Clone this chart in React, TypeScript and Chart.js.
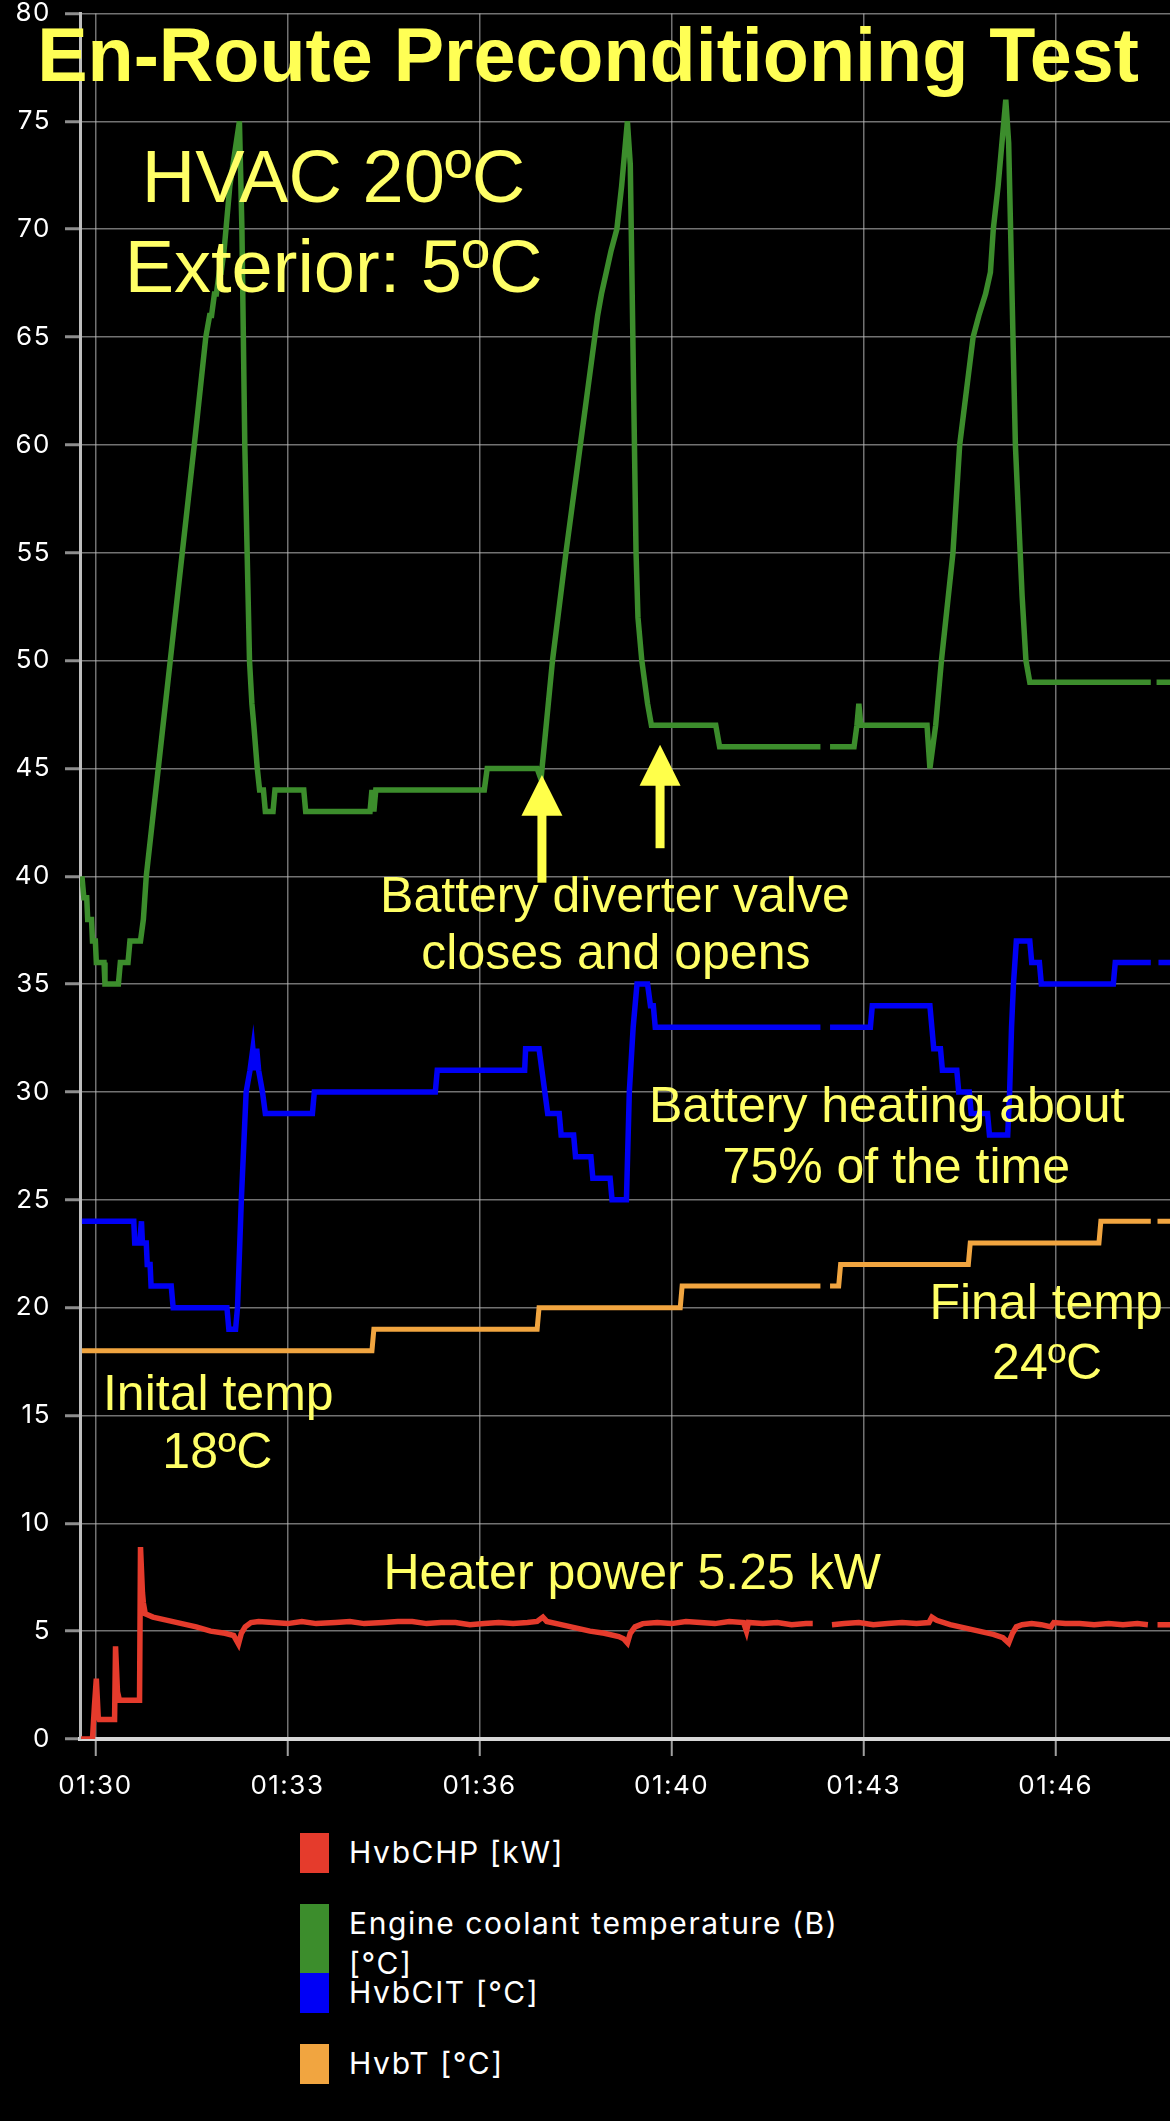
import React, { useEffect, useRef } from "react";
import { Chart, registerables } from "chart.js";

Chart.register(...registerables);

// ---- time base: x values are seconds after 01:30:00 ----
const BASE_SECONDS = 5400; // 01:30:00 as seconds since midnight
const X_MIN_OFFSET = -16;
const X_MAX_OFFSET = 1119;
const X_TICK_STEP = 200;

const Y_MIN = 0;
const Y_MAX = 80;
const Y_STEP = 5;

const seriesLabels = [
  "HvbCHP [kW]",
  "Engine coolant temperature (B) [°C]",
  "HvbCIT [°C]",
  "HvbT [°C]",
];
const seriesColors = ["#e53b2c", "#3c8d2c", "#0000f6", "#f1a540"];
const seriesLineWidths = [5.5, 5.5, 5.5, 5];

// [seconds after 01:30:00, value]; null marks a gap in the log
const heaterPower: [number, number | null][] = [
  [-15, 0], [-3, 0], [-1, 1.5], [1, 2.8], [3, 1.0], [4, 0.9], [20, 0.9], [21, 4.3], [23, 2.2],
  [25, 1.8], [46, 1.8], [47, 8.9], [49, 6.8], [50, 6.3], [52, 5.8], [60, 5.65], [75, 5.5],
  [90, 5.35], [105, 5.2], [120, 5.0], [135, 4.9], [144, 4.8], [149, 4.4], [152, 4.9], [156, 5.2],
  [162, 5.4], [170, 5.45], [185, 5.4], [200, 5.35], [215, 5.45], [230, 5.35], [250, 5.4],
  [265, 5.45], [280, 5.35], [300, 5.4], [315, 5.45], [330, 5.45], [345, 5.35], [360, 5.4],
  [375, 5.4], [390, 5.3], [405, 5.35], [420, 5.4], [435, 5.35], [450, 5.4], [460, 5.45],
  [466, 5.65], [470, 5.45], [485, 5.3], [500, 5.15], [515, 5.0], [530, 4.9], [545, 4.75],
  [550, 4.65], [554, 4.45], [557, 4.9], [562, 5.2], [570, 5.35], [585, 5.4], [600, 5.35],
  [615, 5.45], [630, 5.4], [645, 5.35], [660, 5.45], [675, 5.4], [678, 5.0], [680, 5.4],
  [695, 5.35], [710, 5.4], [725, 5.3], [740, 5.35], [747, 5.35], [757, null], [767, 5.3],
  [780, 5.35], [795, 5.4], [810, 5.3], [825, 5.35], [840, 5.4], [855, 5.35], [868, 5.4],
  [871, 5.65], [876, 5.5], [890, 5.3], [905, 5.15], [920, 5.0], [935, 4.85], [945, 4.7],
  [951, 4.45], [955, 4.9], [959, 5.2], [965, 5.3], [975, 5.35], [985, 5.3], [995, 5.2],
  [998, 5.4], [1010, 5.35], [1025, 5.35], [1040, 5.3], [1055, 5.35], [1070, 5.3], [1085, 5.35],
  [1096, 5.3], [1101, null], [1106, 5.3], [1119, 5.3],
];

const coolantTemp: [number, number | null][] = [
  [-14, 40], [-12, 39], [-9, 39], [-8, 38], [-4, 38], [-3, 37], [0, 37], [1, 36], [9, 36],
  [10, 35], [24, 35], [26, 36], [34, 36], [36, 37], [47, 37], [50, 38], [53, 40], [65.5, 45],
  [78, 50], [90.5, 55], [103, 60], [115, 65], [119, 66], [121, 66], [124, 67], [126, 67],
  [129, 68], [131, 68], [134, 69], [136, 70], [140, 72], [150, 75], [152.6, 70], [155.6, 60],
  [160.5, 50], [163, 48], [165, 47], [168.6, 45], [171, 44], [175, 44], [177, 43], [185, 43],
  [187, 44], [217, 44], [219, 43], [286, 43], [288, 44], [290, 43], [292, 44], [405, 44],
  [408, 45], [460, 45], [464, 44.5], [476, 50], [490, 55], [505, 60], [520, 65], [523, 66],
  [527, 67], [532, 68], [537, 69], [543, 70], [548, 72], [554, 75], [557, 73], [563, 55],
  [565, 52], [569, 50], [572, 49], [575, 48], [579, 47], [646, 47], [650, 46], [755, 46],
  [760, null], [765, 46], [790, 46], [793, 47], [795, 48], [797, 47], [866, 47], [869, 45],
  [875, 47], [877, 48], [881, 50], [893, 55], [900, 60], [914, 65], [920, 66], [927, 67],
  [932, 68], [935, 70], [940, 72], [948, 76], [951, 74], [958, 60], [965, 53], [969, 50],
  [973, 49], [1099, 49], [1102, null], [1105, 49], [1119, 49],
];

const cellInletTemp: [number, number | null][] = [
  [-14, 24], [40, 24], [41, 23], [46, 23], [48, 24], [49, 23], [53, 23], [54, 22], [57, 22],
  [58, 21], [79, 21], [81, 20], [137, 20], [139, 19], [146, 19], [148, 20], [152, 25],
  [155, 28], [157, 30], [161, 31], [164, 32], [166, 31], [168, 32], [170, 31], [174, 30],
  [177, 29], [226, 29], [228, 30], [354, 30], [356, 31], [447, 31], [448, 32], [462, 32],
  [465, 31], [468, 30], [471, 29], [483, 29], [485, 28], [498, 28], [500, 27], [516, 27],
  [518, 26], [536, 26], [538, 25], [553, 25], [556, 30], [560, 33], [564, 35], [575, 35],
  [578, 34], [581, 34], [583, 33], [755, 33], [760, null], [765, 33], [807, 33], [809, 34],
  [869, 34], [871, 33], [873, 32], [880, 32], [882, 31], [897, 31], [899, 30], [910, 30],
  [912, 29], [929, 29], [931, 28], [950, 28], [952, 30], [954, 33], [956, 35], [959, 37],
  [973, 37], [975, 36], [983, 36], [985, 35], [1060, 35], [1062, 36], [1099, 36], [1103, null],
  [1107, 36], [1119, 36],
];

const batteryTemp: [number, number | null][] = [
  [-14, 18], [288, 18], [290, 19], [460, 19], [462, 20], [609, 20], [611, 21], [755, 21],
  [760, null], [765, 21], [774, 21], [776, 22], [909, 22], [911, 23], [1045, 23], [1047, 24],
  [1099, 24], [1102, null], [1106, 24], [1119, 24],
];

const seriesData = [heaterPower, coolantTemp, cellInletTemp, batteryTemp];

// ---- overlay notes (text, centre time offset, baseline value) ----
const TITLE = "En-Route Preconditioning Test";
const noteLines = [
  { text: "HVAC 20ºC", t: 248, v: 71.25, size: 74 },
  { text: "Exterior: 5ºC", t: 248, v: 67.1, size: 74 },
  { text: "Battery diverter valve", t: 541, v: 38.35, size: 50 },
  { text: "closes and opens", t: 542, v: 35.7, size: 50 },
  { text: "Battery heating about", t: 824, v: 28.6, size: 50 },
  { text: "75% of the time", t: 834, v: 25.8, size: 50 },
  { text: "Final temp", t: 990, v: 19.45, size: 50 },
  { text: "24ºC", t: 991, v: 16.7, size: 50 },
  { text: "Inital temp", t: 128, v: 15.25, size: 50 },
  { text: "18ºC", t: 127, v: 12.55, size: 50 },
  { text: "Heater power 5.25 kW", t: 559, v: 6.95, size: 50 },
];
const titlePos = { t: 513, v: 76.85, size: 75.5 };
const arrowNotes = [
  { t: 465, tip: 44.7, headBase: 42.8, tail: 39.7 },
  { t: 588, tip: 46.1, headBase: 44.2, tail: 41.3 },
];

const NOTE_COLOR = "#ffff66";
const TITLE_COLOR = "#ffff55";
const ARROW_COLOR = "#ffff4a";
const NOTE_FONT = "'Liberation Sans', Arial, Helvetica, sans-serif";
const UI_FONT = "Inter, 'Noto Sans', sans-serif";

const CANVAS_W = 1170;
const CANVAS_H = 1830;

function formatClock(v: number): string {
  const h = Math.floor(v / 3600);
  const m = Math.floor((v % 3600) / 60);
  return String(h).padStart(2, "0") + ":" + String(m).padStart(2, "0");
}

const spacingPlugin = {
  id: "tickSpacing",
  beforeDraw(chart: any) {
    (chart.ctx as any).letterSpacing = "1.5px";
  },
};

const notesPlugin = {
  id: "overlayNotes",
  afterDatasetsDraw(chart: any) {
    const { ctx } = chart;
    const xs = chart.scales.x;
    const ys = chart.scales.y;
    ctx.save();
    (ctx as any).letterSpacing = "0px";
    // arrows
    ctx.fillStyle = ARROW_COLOR;
    for (const a of arrowNotes) {
      const px = xs.getPixelForValue(BASE_SECONDS + a.t);
      const tip = ys.getPixelForValue(a.tip);
      const base = ys.getPixelForValue(a.headBase);
      const tail = ys.getPixelForValue(a.tail);
      ctx.fillRect(px - 4.5, base - 1, 9, tail - base + 1);
      ctx.beginPath();
      ctx.moveTo(px, tip);
      ctx.lineTo(px - 20.5, base);
      ctx.lineTo(px + 20.5, base);
      ctx.closePath();
      ctx.fill();
    }
    ctx.textAlign = "center";
    ctx.textBaseline = "alphabetic";
    ctx.fillStyle = NOTE_COLOR;
    for (const n of noteLines) {
      ctx.font = `${n.size}px ${NOTE_FONT}`;
      ctx.fillText(n.text, xs.getPixelForValue(BASE_SECONDS + n.t), ys.getPixelForValue(n.v));
    }
    ctx.fillStyle = TITLE_COLOR;
    ctx.font = `bold ${titlePos.size}px ${NOTE_FONT}`;
    ctx.fillText(TITLE, xs.getPixelForValue(BASE_SECONDS + titlePos.t), ys.getPixelForValue(titlePos.v));
    ctx.restore();
  },
};

const legendTops = [1833, 1904, 1973, 2044];
const legendBoxHeights = [40, 69, 40, 40];

export default function App() {
  const canvasRef = useRef<HTMLCanvasElement | null>(null);

  useEffect(() => {
    const canvas = canvasRef.current;
    if (!canvas) return;
    const gridColor = "rgba(190,190,190,0.6)";
    const chart = new Chart(canvas, {
      type: "line",
      data: {
        datasets: seriesData.map((s, i) => ({
          label: seriesLabels[i],
          data: s.map(([t, v]) => ({ x: BASE_SECONDS + t, y: v })),
          borderColor: seriesColors[i],
          backgroundColor: seriesColors[i],
          borderWidth: seriesLineWidths[i],
          pointRadius: 0,
          tension: 0,
          spanGaps: false,
          fill: false,
          borderJoinStyle: "miter" as const,
        })),
      },
      options: {
        responsive: false,
        maintainAspectRatio: false,
        devicePixelRatio: 1,
        animation: false,
        parsing: true,
        layout: { padding: { top: 13.5, right: 0, bottom: 0, left: 0 } },
        plugins: {
          legend: { display: false },
          tooltip: { enabled: false },
          title: { display: false },
        },
        scales: {
          x: {
            type: "linear",
            min: BASE_SECONDS + X_MIN_OFFSET,
            max: BASE_SECONDS + X_MAX_OFFSET,
            ticks: {
              stepSize: X_TICK_STEP,
              includeBounds: false,
              autoSkip: false,
              maxRotation: 0,
              color: "#ffffff",
              font: { family: UI_FONT, size: 26, lineHeight: 1 },
              padding: 17,
              callback: (v: any) => formatClock(Number(v)),
            },
            grid: { color: gridColor, lineWidth: 1.5, tickLength: 17, tickColor: "#a0a0a0", tickWidth: 2 },
            border: { color: "#d6d6d6", width: 4 },
            afterFit: (s: any) => {
              s.height = CANVAS_H - 1739;
              s.paddingLeft = 0;
              s.paddingRight = 0;
            },
          },
          y: {
            type: "linear",
            min: Y_MIN,
            max: Y_MAX,
            ticks: {
              stepSize: Y_STEP,
              color: "#ffffff",
              font: { family: UI_FONT, size: 26, lineHeight: 1 },
              padding: 14,
            },
            grid: { color: gridColor, lineWidth: 1.5, tickLength: 15, tickColor: "#8e8e8e", tickWidth: 3 },
            border: { color: "#bdbdbd", width: 3 },
            afterFit: (s: any) => {
              s.width = 80;
              s.paddingTop = 0;
              s.paddingBottom = 0;
            },
          },
        },
      },
      plugins: [spacingPlugin, notesPlugin],
    } as any);
    return () => chart.destroy();
  }, []);

  return (
    <div
      style={{
        position: "absolute",
        left: 0,
        top: 0,
        width: CANVAS_W,
        height: 2121,
        background: "#000",
        overflow: "hidden",
      }}
    >
      <canvas
        ref={canvasRef}
        width={CANVAS_W}
        height={CANVAS_H}
        style={{ display: "block", width: CANVAS_W, height: CANVAS_H }}
      />
      {seriesLabels.map((label, i) => (
        <div key={label}>
          <div
            style={{
              position: "absolute",
              left: 300,
              top: legendTops[i],
              width: 29,
              height: legendBoxHeights[i],
              background: seriesColors[i],
            }}
          />
          <div
            style={{
              position: "absolute",
              left: 349,
              top: legendTops[i],
              width: 530,
              fontFamily: UI_FONT,
              fontSize: 30,
              lineHeight: "39.5px",
              letterSpacing: "1.6px",
              color: "#ffffff",
            }}
          >
            {label}
          </div>
        </div>
      ))}
    </div>
  );
}
